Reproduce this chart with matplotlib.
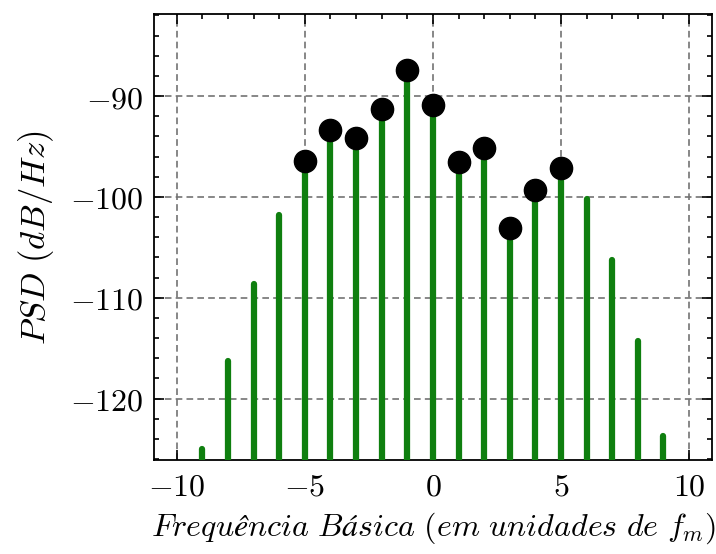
import matplotlib
matplotlib.use("Agg")
import matplotlib.pyplot as plt
import numpy as np

plt.rcParams['mathtext.fontset'] = 'cm'
plt.rcParams['font.family'] = ['DejaVu Serif']

# data
harmonics = [-9, -8, -7, -6, -5, -4, -3, -2, -1, 0, 1, 2, 3, 4, 5, 6, 7, 8, 9]
psd_db = [-125.0, -116.3, -108.6, -101.8, -96.45, -93.4, -94.15, -91.3, -87.4,
          -90.9, -96.55, -95.1, -103.1, -99.3, -97.1, -100.25, -106.3, -114.3, -123.7]
dot_harmonics = [-5, -4, -3, -2, -1, 0, 1, 2, 3, 4, 5]
dot_psd = [-96.45, -93.4, -94.15, -91.3, -87.4, -90.9, -96.55, -95.1, -103.1, -99.3, -97.1]

xticks = [-10, -5, 0, 5, 10]
xticklabels = [r'$-10$', r'$-5$', r'$0$', r'$5$', r'$10$']
yticks = [-120, -110, -100, -90]
yticklabels = [r'$-120$', r'$-110$', r'$-100$', r'$-90$']

xlabel = r'$Frequência\ Básica\ (em\ unidades\ de\ f_m)$'
ylabel = r'$PSD\ (dB/Hz)$'

ybottom, ytop = -126.1, -81.9

fig = plt.figure(figsize=(7.16, 5.54), dpi=100)
ax = fig.add_axes([0.2155, 0.1695, 0.7790, 0.8045])

ax.vlines(harmonics, ybottom, psd_db, color='#0f7f0f', linewidth=4.5,
          capstyle='round', zorder=3)
ax.plot(dot_harmonics, dot_psd, 'o', color='black', markersize=16, zorder=4)

ax.set_xlim(-10.88, 10.9)
ax.set_ylim(ybottom, ytop)

ax.set_xticks(xticks)
ax.set_xticklabels(xticklabels)
ax.set_yticks(yticks)
ax.set_yticklabels(yticklabels)
ax.set_xticks(np.arange(-10, 11, 1), minor=True)
ax.set_yticks(np.arange(-126, -81, 2), minor=True)

ax.tick_params(which='both', direction='in', top=True, right=True, labelsize=23,
               width=1.2)
ax.tick_params(which='major', length=7, pad=8)
ax.tick_params(which='minor', length=3.5)

for s in ax.spines.values():
    s.set_linewidth(1.3)

ax.grid(True, which='major', color='#737373', linestyle=(0, (4, 2.5)), linewidth=1.2)
ax.set_axisbelow(True)

ax.set_xlabel(xlabel, fontsize=23, labelpad=6)
ax.set_ylabel(ylabel, fontsize=25, labelpad=10)

fig.savefig('out.png', dpi=100)
